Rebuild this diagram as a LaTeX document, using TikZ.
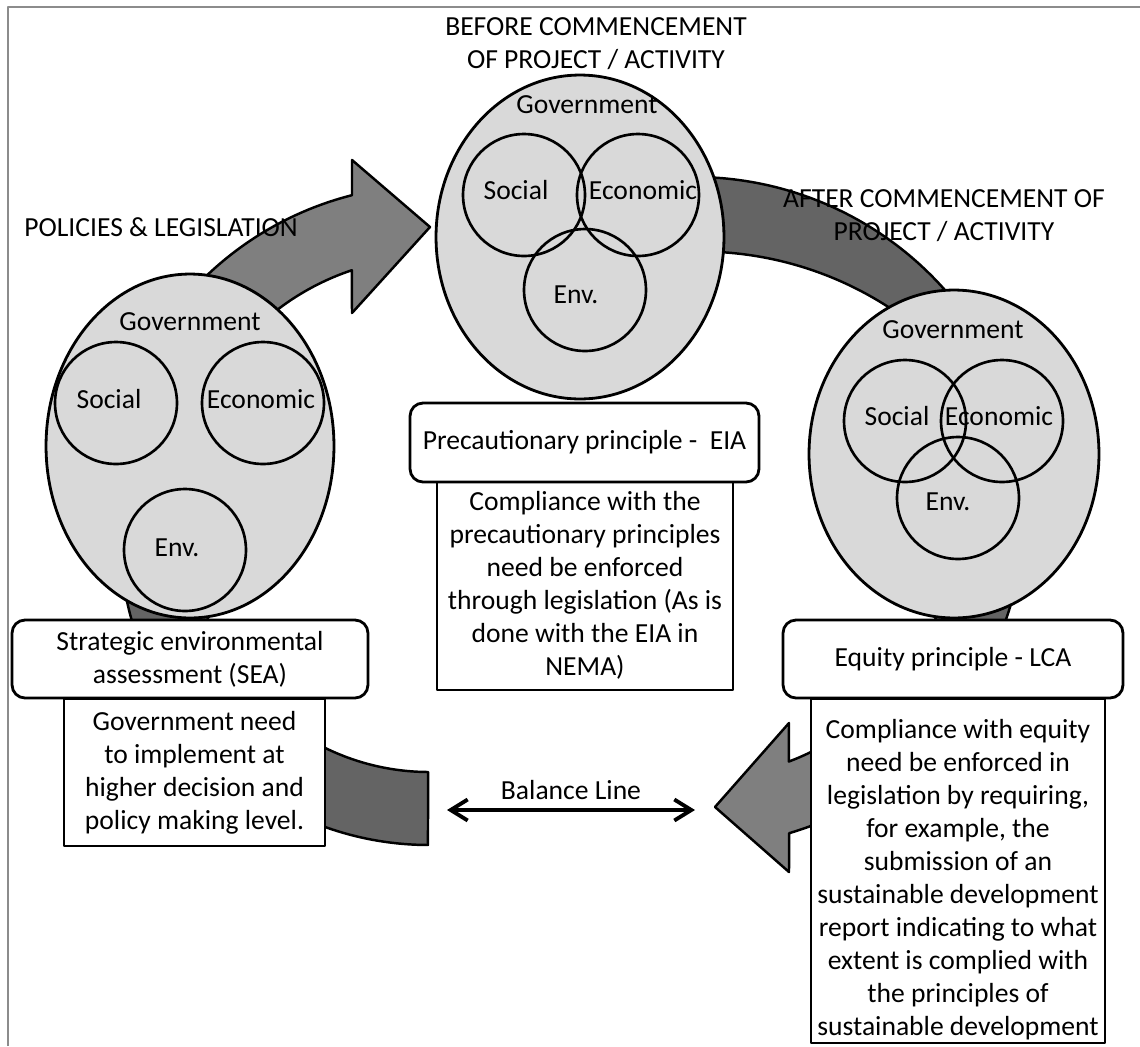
\documentclass[tikz,border=0pt]{standalone}
\usepackage{fontspec}
\setmainfont{Carlito}
\usetikzlibrary{arrows.meta,shapes.geometric}
\definecolor{blobfill}{HTML}{D9D9D9}
\definecolor{arrowlight}{HTML}{7F7F7F}
\definecolor{arrowdark}{HTML}{646464}
\definecolor{framegray}{HTML}{8C8C8C}
\tikzset{
    every picture/.style={line join=round},
    txt/.style={font=\fontsize{15.7}{18.8}\selectfont,align=center},
    tag/.style={txt,inner sep=0pt},
    blob/.style={ellipse,draw,fill=blobfill,line width=1.6pt,inner sep=0pt},
    ring/.style={circle,draw,line width=1.5pt,minimum size=2.44cm,inner sep=0pt},
    headbox/.style={txt,draw,fill=white,rounded corners=2.6mm,line width=1.6pt,
      inner xsep=2pt,inner ysep=2pt},
    notebox/.style={txt,draw,fill=white,line width=1.6pt,inner xsep=0pt,inner ysep=2pt},
    blockarrow/.style={draw=black,line width=1.4pt},
    balance/.style={{Straight Barb[length=3.4mm,width=4.2mm]}-{Straight Barb[length=3.4mm,width=4.2mm]},
      line width=2.2pt}
}
\begin{document}
\begin{tikzpicture}[x=0.02cm,y=-0.02cm]
  \useasboundingbox (0,0) rectangle (1140,1046);
  \draw[framegray,line width=1.1pt] (8,1046) -- (8,7) -- (1140,7);
  % centres of the big arcs
  \coordinate (cl) at (433,513);
  \coordinate (ct) at (429,536);
  \coordinate (cr) at (694,512);
  \coordinate (ci) at (700,599);
  % curved block arrows
  \filldraw[blockarrow,fill=arrowdark] ([shift={(90.2:309)}]ct) arc[start angle=90.2,end angle=190,radius=309]
    -- ([shift={(190:236)}]ct) arc[start angle=190,end angle=90.2,radius=236] -- cycle;
  \filldraw[blockarrow,fill=arrowlight] ([shift={(185:328)}]cl) arc[start angle=185,end angle=255.7,radius=328]
    -- (352,160) -- (430,227) -- (352,313)
    -- ([shift={(251.5:256)}]cl) arc[start angle=251.5,end angle=185,radius=256] -- cycle;
  \filldraw[blockarrow,fill=arrowdark] ([shift={(262:335)}]cr) arc[start angle=262,end angle=330,radius=335]
    -- ([shift={(311.4:347.5)}]ci) arc[start angle=311.4,end angle=262,radius=347.5] -- cycle;
  \filldraw[blockarrow,fill=arrowdark] ([shift={(-10:330)}]cr) arc[start angle=-10,end angle=62,radius=330]
    -- ([shift={(62:264)}]cr) arc[start angle=62,end angle=-10,radius=264] -- cycle;
  \filldraw[blockarrow,fill=arrowlight] ([shift={(55:335)}]cr) arc[start angle=55,end angle=73.5,radius=335]
    -- (789,872) -- (715,807) -- (789,723)
    -- ([shift={(69.2:267)}]cr) arc[start angle=69.2,end angle=55,radius=267] -- cycle;
  % the three government ovals
  \node[blob,minimum width=5.76cm,minimum height=6.88cm] (govl) at (190,446) {};
  \node[blob,minimum width=5.76cm,minimum height=6.48cm] (govt) at (580,237) {};
  \node[blob,minimum width=5.8cm,minimum height=6.56cm] (govr) at (954,454) {};
  \node[tag] (govl-t) at (190,322) {Government};
  \node[tag] (govt-t) at (587,105) {Government};
  \node[tag] (govr-t) at (953,330) {Government};
  \foreach \nm/\cx/\cy/\tx/\ty/\word in {ls/116/403/109/399/Social,le/263/403/261/399/Economic,
      lv/185/550/177/548/Env.,ts/524/195/516/190/Social,te/638/195/643/190/Economic,
      tv/585/290/576/295/Env.,rs/905/421/897/416/Social,re/1002/421/999/416/Economic,
      rv/958/498/948/502/Env.}{
    \node[ring] (\nm) at (\cx,\cy) {};
    \node[tag] (\nm-t) at (\tx,\ty) {\word};}
  % boxes
  \node[notebox,minimum width=5.92cm,minimum height=4.2cm] (eiatxt) at (585,585)
    {Compliance with the\\precautionary principles\\need be enforced\\through legislation (As is\\done with the EIA in\\NEMA)};
  \node[headbox,minimum width=6.98cm,minimum height=1.58cm] (eia) at (584.5,442.5) {Precautionary principle -\ \ EIA};
  \node[notebox,minimum width=5.22cm,minimum height=2.94cm] (seatxt) at (194.5,772.5)
    {Government need\\to implement at\\higher decision and\\policy making level.};
  \node[headbox,minimum width=7.12cm,minimum height=1.56cm] (sea) at (190,659) {Strategic environmental\\assessment (SEA)};
  \node[notebox,inner ysep=0pt,minimum width=5.88cm,minimum height=6.88cm] (lcatxt) at (958,871)
    {\rule{0pt}{21pt}Compliance with equity\\need be enforced in\\legislation by requiring,\\for example, the\\submission of an\\sustainable development\\report indicating to what\\extent is complied with\\the principles of\\sustainable development};
  \node[headbox,minimum width=6.8cm,minimum height=1.56cm] (lca) at (953,659) {Equity principle - LCA};
  % headings
  \node[tag] (before) at (596,44) {BEFORE COMMENCEMENT\\OF PROJECT / ACTIVITY};
  \node[tag] (after) at (944,216) {AFTER COMMENCEMENT OF\\PROJECT / ACTIVITY};
  \node[tag,anchor=west] (policy) at (24,227) {POLICIES \& LEGISLATION};
  % balance line
  \coordinate (bl) at (447,810);
  \coordinate (br) at (695,810);
  \draw[balance] (bl) -- (br);
  \node[tag] (bal) at (571,790) {Balance Line};
\end{tikzpicture}
\end{document}
